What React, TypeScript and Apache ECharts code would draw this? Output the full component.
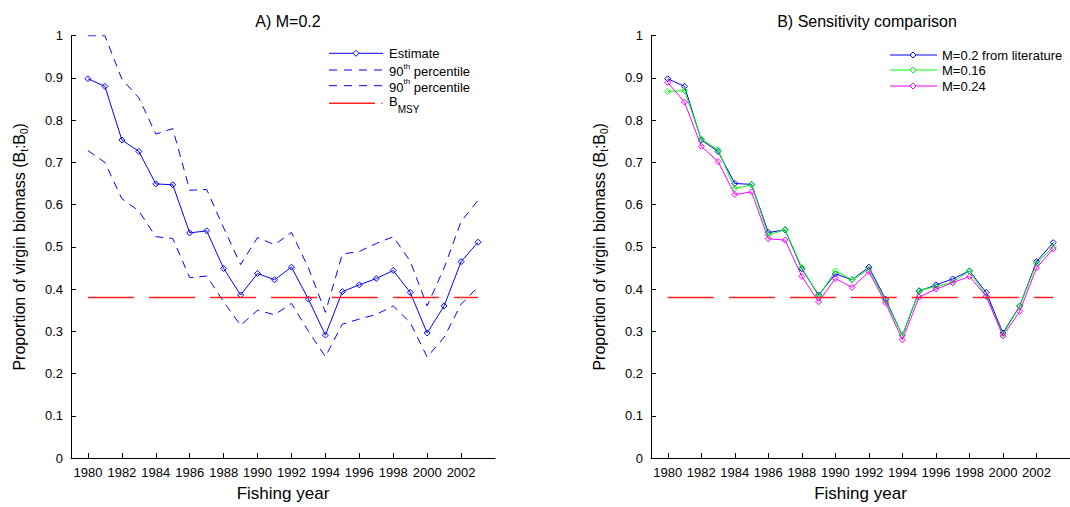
import React, { useEffect, useRef } from "react";
import * as echarts from "echarts";

const years = [1980, 1981, 1982, 1983, 1984, 1985, 1986, 1987, 1988, 1989, 1990, 1991, 1992, 1993, 1994, 1995, 1996, 1997, 1998, 1999, 2000, 2001, 2002, 2003];
const tickYears = [1980, 1982, 1984, 1986, 1988, 1990, 1992, 1994, 1996, 1998, 2000, 2002];

const estimate = [0.898, 0.88, 0.753, 0.726, 0.649, 0.647, 0.533, 0.538, 0.449, 0.386, 0.437, 0.422, 0.452, 0.376, 0.291, 0.394, 0.41, 0.425, 0.444, 0.392, 0.296, 0.36, 0.465, 0.511];
const upper90 = [1.0, 1.0, 0.897, 0.853, 0.767, 0.78, 0.634, 0.636, 0.545, 0.458, 0.522, 0.505, 0.534, 0.45, 0.345, 0.483, 0.489, 0.508, 0.524, 0.466, 0.36, 0.45, 0.56, 0.61];
const lower90 = [0.728, 0.7, 0.614, 0.585, 0.524, 0.52, 0.427, 0.431, 0.37, 0.314, 0.35, 0.339, 0.366, 0.3, 0.24, 0.317, 0.329, 0.34, 0.36, 0.321, 0.239, 0.286, 0.364, 0.405];

const m020 = [0.898, 0.88, 0.753, 0.726, 0.65, 0.648, 0.534, 0.54, 0.448, 0.386, 0.436, 0.422, 0.452, 0.376, 0.29, 0.395, 0.41, 0.424, 0.443, 0.392, 0.296, 0.36, 0.465, 0.51];
const m016 = [0.868, 0.87, 0.755, 0.73, 0.638, 0.647, 0.528, 0.541, 0.451, 0.383, 0.443, 0.422, 0.447, 0.372, 0.29, 0.397, 0.406, 0.416, 0.443, 0.383, 0.293, 0.359, 0.461, 0.5];
const m024 = [0.889, 0.843, 0.738, 0.702, 0.624, 0.63, 0.519, 0.516, 0.43, 0.37, 0.425, 0.404, 0.441, 0.367, 0.28, 0.381, 0.4, 0.415, 0.43, 0.383, 0.289, 0.347, 0.45, 0.495];

const bmsy = 0.38;

const FONT = "Liberation Sans, Arial, Helvetica, sans-serif";

const pairs = (vals: number[]) => years.map((y, i) => [y, vals[i]]);

function makeX(gridIndex: number) {
  return {
    type: "value",
    gridIndex,
    min: 1979,
    max: 2004,
    name: "Fishing year",
    nameLocation: "middle",
    nameGap: 27,
    nameTextStyle: { fontSize: 17, color: "#000", fontFamily: FONT },
    axisLine: { show: true, onZero: false, lineStyle: { color: "#000", width: 1 } },
    axisTick: { show: true, inside: true, length: 5, customValues: tickYears, lineStyle: { color: "#000" } },
    axisLabel: {
      show: true,
      customValues: tickYears,
      margin: 8,
      fontSize: 13,
      color: "#000",
      fontFamily: FONT,
      formatter: (v: number) => String(v),
    },
    splitLine: { show: false },
  };
}

function makeY(gridIndex: number) {
  return {
    type: "value",
    gridIndex,
    min: 0,
    max: 1,
    interval: 0.1,
    name: "{a|Proportion of virgin biomass (B}{s|t}{a|:B}{s|0}{a|)}",
    nameLocation: "middle",
    nameRotate: 90,
    nameGap: 42,
    nameTextStyle: {
      color: "#000",
      fontFamily: FONT,
      rich: {
        a: { fontSize: 16, lineHeight: 18, verticalAlign: "top", color: "#000", fontFamily: FONT },
        s: { fontSize: 10, lineHeight: 18, verticalAlign: "bottom", color: "#000", fontFamily: FONT },
      },
    },
    axisLine: { show: true, lineStyle: { color: "#000", width: 1 } },
    axisTick: { show: true, inside: true, length: 5, lineStyle: { color: "#000" } },
    axisLabel: {
      margin: 8,
      fontSize: 13,
      color: "#000",
      fontFamily: FONT,
      formatter: (v: number) => String(Math.round(v * 10) / 10),
    },
    splitLine: { show: false },
  };
}

function markerSeries(name: string, vals: number[], color: string, idx: number, z: number) {
  return {
    name,
    type: "line",
    xAxisIndex: idx,
    yAxisIndex: idx,
    data: pairs(vals),
    symbol: "diamond",
    symbolSize: 6,
    showSymbol: true,
    z,
    lineStyle: { color, width: 1 },
    itemStyle: { color: "rgba(255,255,255,0)", borderColor: color, borderWidth: 1 },
    emphasis: { disabled: true },
  };
}

function dashedSeries(name: string, vals: number[], color: string, idx: number) {
  return {
    name,
    type: "line",
    xAxisIndex: idx,
    yAxisIndex: idx,
    data: pairs(vals),
    symbol: "none",
    lineStyle: { color, width: 1, type: [8, 6] },
    emphasis: { disabled: true },
  };
}

function bmsySeries(idx: number) {
  return {
    name: "BMSY",
    type: "line",
    xAxisIndex: idx,
    yAxisIndex: idx,
    data: [
      [years[0], bmsy],
      [years[years.length - 1], bmsy],
    ],
    symbol: "none",
    z: 5,
    lineStyle: { color: "#ff2020", width: 1.5, type: [46, 15] },
    emphasis: { disabled: true },
  };
}

function diamond(cx: number, cy: number, r: number, color: string) {
  return {
    type: "polygon",
    shape: { points: [[cx, cy - r], [cx + r, cy], [cx, cy + r], [cx - r, cy]] },
    style: { fill: "#fff", stroke: color, lineWidth: 1 },
  };
}

function legLine(x1: number, x2: number, y: number, color: string, dash?: number[], w?: number) {
  return {
    type: "line",
    shape: { x1, y1: y, x2, y2: y },
    style: { stroke: color, lineWidth: w || 1, lineDash: dash || null },
  };
}

function legText(x: number, y: number, text: string, rich?: any) {
  return {
    type: "text",
    x,
    y,
    style: {
      text,
      fontSize: 13,
      fontFamily: FONT,
      fill: "#000",
      verticalAlign: "middle",
      align: "left",
      rich: rich || undefined,
    },
  };
}

const supRich = {
  a: { fontSize: 13, lineHeight: 16, verticalAlign: "bottom", fontFamily: FONT, color: "#000" },
  sup: { fontSize: 8, lineHeight: 7, verticalAlign: "top", fontFamily: FONT, color: "#000" },
};
const subRich = {
  a: { fontSize: 13, lineHeight: 16, verticalAlign: "top", fontFamily: FONT, color: "#000" },
  sub: { fontSize: 10, lineHeight: 20, verticalAlign: "bottom", fontFamily: FONT, color: "#000" },
};

export default function App() {
  const ref = useRef<HTMLDivElement>(null);
  useEffect(() => {
    document.body.style.margin = "0";
    if (!ref.current) return;
    const chart = echarts.init(ref.current, null, { renderer: "svg" });
    const option: any = {
      animation: false,
      backgroundColor: "#fff",
      textStyle: { fontFamily: FONT },
      title: [
        { text: "A) M=0.2", left: 283, top: 8, textAlign: "center", textStyle: { fontSize: 16, fontWeight: "normal", color: "#000", fontFamily: FONT } },
        { text: "B) Sensitivity comparison", left: 862, top: 8, textAlign: "center", textStyle: { fontSize: 16, fontWeight: "normal", color: "#000", fontFamily: FONT } },
      ],
      grid: [
        { left: 71, top: 35.7, width: 424, height: 426 },
        { left: 651, top: 35.7, width: 422, height: 426 },
      ],
      xAxis: [makeX(0), makeX(1)],
      yAxis: [makeY(0), makeY(1)],
      series: [
        dashedSeries("90th percentile upper", upper90, "#0000ff", 0),
        dashedSeries("90th percentile lower", lower90, "#0000ff", 0),
        markerSeries("Estimate", estimate, "#0000ff", 0, 3),
        bmsySeries(0),
        markerSeries("M=0.2 from literature", m020, "#0000ff", 1, 2),
        markerSeries("M=0.16", m016, "#00ff00", 1, 3),
        markerSeries("M=0.24", m024, "#ff00ff", 1, 4),
        bmsySeries(1),
      ],
      graphic: [
        legLine(329, 383, 53.3, "#0000ff"),
        diamond(356, 53.3, 3, "#0000ff"),
        legText(389, 53.3, "Estimate"),
        legLine(329, 383, 70, "#0000ff", [8, 7]),
        legText(389, 70, "{a|90}{sup|th}{a| percentile}", supRich),
        legLine(329, 383, 85.7, "#0000ff", [8, 7]),
        legText(389, 85.7, "{a|90}{sup|th}{a| percentile}", supRich),
        legLine(329, 375, 103.3, "#ff2020", undefined, 1.5),
        { type: "circle", shape: { cx: 382, cy: 103.3, r: 0.7 }, style: { fill: "#ff2020" } },
        legText(389, 104.5, "{a|B}{sub|MSY}", subRich),

        legLine(890, 937, 55, "#0000ff"),
        diamond(913, 55, 3, "#0000ff"),
        legText(942, 55, "M=0.2 from literature"),
        legLine(890, 937, 70, "#00ff00"),
        diamond(913, 70, 3, "#00ff00"),
        legText(942, 70, "M=0.16"),
        legLine(890, 937, 86, "#ff00ff"),
        diamond(913, 86, 3, "#ff00ff"),
        legText(942, 86, "M=0.24"),
      ],
    };
    chart.setOption(option);
    return () => chart.dispose();
  }, []);
  return <div ref={ref} style={{ width: 1070, height: 507 }} />;
}
